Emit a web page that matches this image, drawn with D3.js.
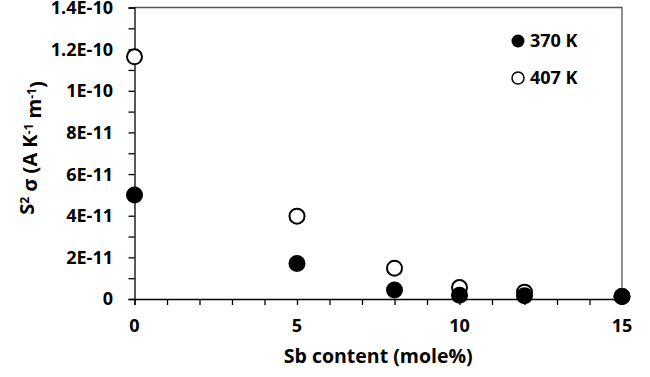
<!DOCTYPE html>
<html>
<head>
<meta charset="utf-8">
<script src="https://cdn.jsdelivr.net/npm/d3@7"></script>
<style>
  body { margin: 0; background: #fff; }
  text { font-family: "Open Sans", Lato, sans-serif; font-weight: bold; fill: #000; }
</style>
</head>
<body>
<div id="chart"></div>
<script>
// Sb content (mole%)
const sbContent = [0, 5, 8, 10, 12, 15];
// S^2 sigma values (A K^-1 m^-1)
const pf370 = [5.0e-11, 1.7e-11, 0.43e-11, 0.18e-11, 0.16e-11, 0.12e-11];
const pf407 = [11.63e-11, 3.98e-11, 1.48e-11, 0.55e-11, 0.33e-11, 0.12e-11];
const seriesNames = ["370 K", "407 K"];
const yTicks = [0, 2e-11, 4e-11, 6e-11, 8e-11, 1e-10, 1.2e-10, 1.4e-10];
const yTickLabels = ["0", "2E-11", "4E-11", "6E-11", "8E-11", "1E-10", "1.2E-10", "1.4E-10"];
const xTicks = [0, 5, 10, 15];

const width = 650, height = 377;
const margin = { top: 7.5, right: 28, bottom: 78, left: 134.5 };

const svg = d3.select("#chart").append("svg")
  .attr("width", width)
  .attr("height", height);

const x = d3.scaleLinear().domain([0, 15])
  .range([margin.left, width - margin.right]);
const y = d3.scaleLinear().domain([0, 1.4e-10])
  .range([height - margin.bottom, margin.top]);

// frame top + right
svg.append("path")
  .attr("d", `M${x(0)},${y(1.4e-10)}H${x(15)}V${y(0)}`)
  .attr("fill", "none")
  .attr("stroke", "#555")
  .attr("stroke-width", 1.3);

// y axis
const yAxis = svg.append("g")
  .attr("transform", `translate(${x(0)},0)`)
  .call(d3.axisLeft(y)
    .tickValues(d3.range(0, 15).map(i => i * 1e-11))
    .tickSize(6)
    .tickFormat(""));
yAxis.select(".domain").attr("stroke", "#000").attr("stroke-width", 1.3);
yAxis.selectAll(".tick line").attr("stroke", "#000").attr("stroke-width", 1.3);

svg.append("g").selectAll("text")
  .data(yTicks)
  .join("text")
  .attr("x", 113)
  .attr("y", d => y(d))
  .attr("dy", "0.36em")
  .attr("text-anchor", "end")
  .style("font-size", "18px")
  .text((d, i) => yTickLabels[i]);

// x axis
const xAxis = svg.append("g")
  .attr("transform", `translate(0,${y(0)})`)
  .call(d3.axisBottom(x)
    .tickValues(d3.range(0, 16))
    .tickSize(6)
    .tickFormat(""));
xAxis.select(".domain").attr("stroke", "#000").attr("stroke-width", 1.3);
xAxis.selectAll(".tick line").attr("stroke", "#000").attr("stroke-width", 1.3);

svg.append("g").selectAll("text")
  .data(xTicks)
  .join("text")
  .attr("x", d => x(d))
  .attr("y", 326)
  .attr("dy", "0.36em")
  .attr("text-anchor", "middle")
  .style("font-size", "18px")
  .text(d => d);

// axis titles
svg.append("text")
  .attr("x", x(7.5))
  .attr("y", 356)
  .attr("dy", "0.36em")
  .attr("text-anchor", "middle")
  .style("font-size", "19.5px")
  .text("Sb content (mole%)");

const yTitle = svg.append("text")
  .attr("transform", "translate(27,148) rotate(-90)")
  .attr("dy", "0.36em")
  .attr("text-anchor", "middle")
  .style("font-size", "20px");
yTitle.append("tspan").text("S");
yTitle.append("tspan").attr("dy", "-0.4em").style("font-size", "12px").text("2");
yTitle.append("tspan").attr("dy", "0.4em").text(" σ (A K");
yTitle.append("tspan").attr("dy", "-0.4em").style("font-size", "12px").text("-1");
yTitle.append("tspan").attr("dy", "0.4em").text(" m");
yTitle.append("tspan").attr("dy", "-0.4em").style("font-size", "12px").text("-1");
yTitle.append("tspan").attr("dy", "0.4em").text(")");

// points: 407 K below, 370 K on top
svg.append("g").selectAll("circle")
  .data(sbContent.map((s, i) => ({ s, v: pf407[i] })))
  .join("circle")
  .attr("cx", d => x(d.s))
  .attr("cy", d => y(d.v))
  .attr("r", 7.5)
  .attr("fill", "#fff")
  .attr("stroke", "#000")
  .attr("stroke-width", 2);

svg.append("g").selectAll("circle")
  .data(sbContent.map((s, i) => ({ s, v: pf370[i] })))
  .join("circle")
  .attr("cx", d => x(d.s))
  .attr("cy", d => y(d.v))
  .attr("r", 8.5)
  .attr("fill", "#000");

// legend
const legend = svg.append("g").selectAll("g")
  .data(seriesNames)
  .join("g")
  .attr("transform", (d, i) => `translate(518,${41 + i * 37})`);
legend.append("circle")
  .attr("r", (d, i) => i === 0 ? 6.5 : 6)
  .attr("fill", (d, i) => i === 0 ? "#000" : "#fff")
  .attr("stroke", "#000")
  .attr("stroke-width", (d, i) => i === 0 ? 0 : 1.5);
legend.append("text")
  .attr("x", 12)
  .attr("dy", "0.36em")
  .style("font-size", "18px")
  .text(d => d);
</script>
</body>
</html>
